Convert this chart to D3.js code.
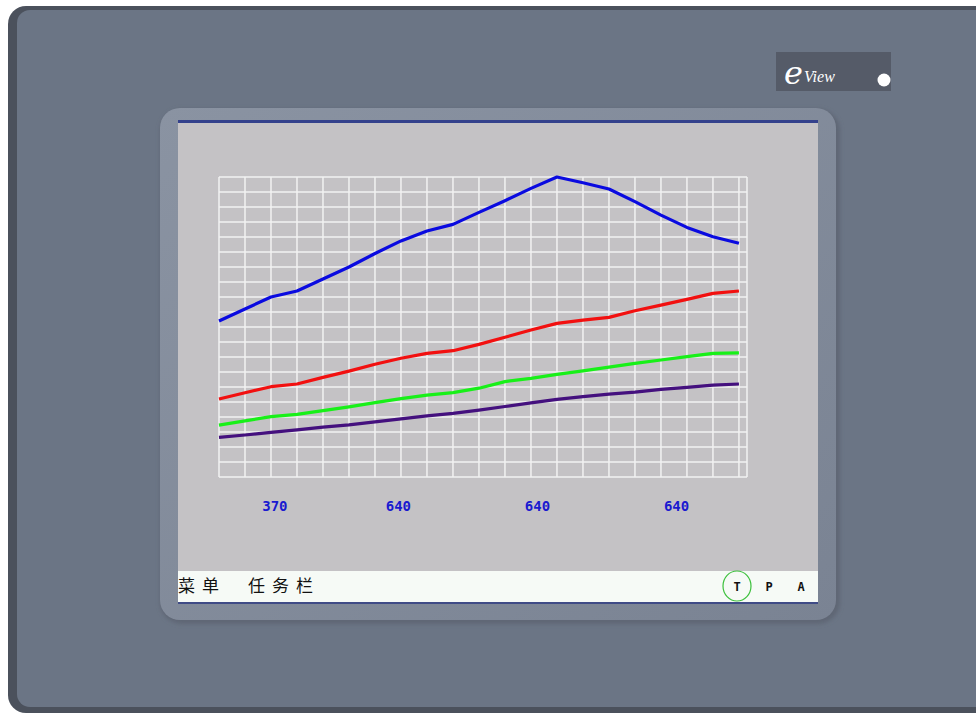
<!DOCTYPE html>
<html>
  <head>
    <meta charset="utf-8" />
    <title>eView trend</title>
    <script src="https://d3js.org/d3.v7.min.js"></script>
    <style>
      body { margin: 0; background: #fff; }
    </style>
  </head>
  <body>
    <svg id="panel"></svg>
    <script>
      // sample index along the trend (one sample per grid column)
      var samples = d3.range(0, 21);

      var blueValues = [52, 56, 60, 62, 66, 70, 74.5, 78.7, 82, 84.2, 88.2, 92.1, 96.2, 100, 98.1, 96, 91.8, 87.3, 83.2, 80.1, 77.9];
      var redValues = [26, 28.1, 30.1, 31, 33.2, 35.3, 37.6, 39.6, 41.2, 42.1, 44.2, 46.6, 49, 51.2, 52.3, 53.2, 55.4, 57.3, 59.2, 61.2, 62];
      var greenValues = [17.3, 18.7, 20.1, 20.9, 22.1, 23.4, 24.8, 26.1, 27.3, 28.1, 29.6, 31.8, 32.9, 34.2, 35.4, 36.6, 37.9, 39, 40.1, 41.2, 41.4];
      var purpleValues = [13.2, 14, 14.9, 15.7, 16.6, 17.4, 18.4, 19.4, 20.4, 21.2, 22.3, 23.5, 24.7, 25.9, 26.8, 27.6, 28.3, 29.2, 29.9, 30.6, 31];

      var tickLabels = ["370", "640", "640", "640"];
      var tickAt = [2.15, 6.9, 12.25, 17.6];

      var series = [
        { name: "blue", values: blueValues, color: "#0a0ae0" },
        { name: "red", values: redValues, color: "#f21010" },
        { name: "green", values: greenValues, color: "#18f018" },
        { name: "purple", values: purpleValues, color: "#44107e" }
      ];

      var width = 976, height = 716;
      var svg = d3.select("#panel").attr("width", width).attr("height", height);
      var defs = svg.append("defs");

      // device bezel
      svg.append("rect").attr("x", 8).attr("y", 6).attr("width", 990).attr("height", 707)
        .attr("rx", 18).attr("fill", "#4b515c");
      svg.append("rect").attr("x", 17).attr("y", 10).attr("width", 980).attr("height", 697)
        .attr("rx", 13).attr("fill", "#6b7585");

      // logo
      svg.append("rect").attr("x", 776).attr("y", 52).attr("width", 115).attr("height", 39)
        .attr("fill", "#555b68");
      svg.append("text").attr("x", 784).attr("y", 84)
        .attr("font-family", "DejaVu Serif").attr("font-style", "italic")
        .attr("font-size", 32).attr("fill", "#fff").text("e");
      svg.append("text").attr("x", 804).attr("y", 82)
        .attr("font-family", "Liberation Serif").attr("font-style", "italic")
        .attr("font-size", 16).attr("fill", "#fff").text("View");
      svg.append("circle").attr("cx", 884).attr("cy", 80).attr("r", 6.5).attr("fill", "#fff");

      // screen recess
      var blur = defs.append("filter").attr("id", "soft").attr("x", "-5%").attr("y", "-5%")
        .attr("width", "110%").attr("height", "110%");
      blur.append("feGaussianBlur").attr("stdDeviation", 2);
      var grad = defs.append("linearGradient").attr("id", "rim").attr("x1", 0).attr("y1", 0).attr("x2", 1).attr("y2", 1);
      grad.append("stop").attr("offset", "0%").attr("stop-color", "#8a93a2");
      grad.append("stop").attr("offset", "100%").attr("stop-color", "#7a8393");
      svg.append("rect").attr("x", 160).attr("y", 109).attr("width", 680).attr("height", 515)
        .attr("rx", 22).attr("fill", "#5e6674").attr("filter", "url(#soft)");
      svg.append("rect").attr("x", 160).attr("y", 108).attr("width", 676).attr("height", 512)
        .attr("rx", 20).attr("fill", "url(#rim)");

      // screen
      svg.append("rect").attr("x", 178).attr("y", 120).attr("width", 640).attr("height", 483)
        .attr("fill", "#c4c2c5");
      svg.append("rect").attr("x", 178).attr("y", 120).attr("width", 640).attr("height", 3)
        .attr("fill", "#34418c");

      // chart
      var x = d3.scaleLinear().domain([0, 20.31]).range([219, 747]);
      var y = d3.scaleLinear().domain([0, 100]).range([477, 177]);

      var grid = svg.append("g").attr("stroke", "#f2f2f2").attr("stroke-width", 1.5);
      grid.selectAll(".v").data(samples.concat([20.31])).enter().append("line")
        .attr("x1", function(d) { return x(d); }).attr("x2", function(d) { return x(d); })
        .attr("y1", y(0)).attr("y2", y(100));
      grid.selectAll(".h").data(d3.range(0, 101, 5)).enter().append("line")
        .attr("x1", x(0)).attr("x2", x(20.31))
        .attr("y1", function(d) { return y(d); }).attr("y2", function(d) { return y(d); });

      var line = d3.line()
        .x(function(d, i) { return x(samples[i]); })
        .y(function(d) { return y(d); });

      svg.append("g").selectAll("path").data(series).enter().append("path")
        .attr("d", function(d) { return line(d.values); })
        .attr("fill", "none")
        .attr("stroke", function(d) { return d.color; })
        .attr("stroke-width", 3.2)
        .attr("stroke-linejoin", "round");

      svg.append("g").selectAll("text").data(tickLabels).enter().append("text")
        .attr("x", function(d, i) { return x(tickAt[i]); })
        .attr("y", 511)
        .attr("text-anchor", "middle")
        .attr("font-family", "DejaVu Sans Mono")
        .attr("font-weight", "bold")
        .attr("font-size", 14)
        .attr("fill", "#1a1ad0")
        .text(function(d) { return d; });

      // task bar
      svg.append("rect").attr("x", 178).attr("y", 571).attr("width", 640).attr("height", 32)
        .attr("fill", "#f6faf6");
      svg.append("rect").attr("x", 178).attr("y", 602).attr("width", 640).attr("height", 2)
        .attr("fill", "#3f4b86");
      svg.append("text").attr("x", 178).attr("y", 592)
        .attr("font-family", "Noto Sans CJK SC").attr("font-size", 17)
        .attr("letter-spacing", 7).attr("fill", "#111").text("菜单");
      svg.append("text").attr("x", 248).attr("y", 592)
        .attr("font-family", "Noto Sans CJK SC").attr("font-size", 17)
        .attr("letter-spacing", 7).attr("fill", "#111").text("任务栏");

      svg.append("ellipse").attr("cx", 737).attr("cy", 586).attr("rx", 14).attr("ry", 15)
        .attr("fill", "none").attr("stroke", "#3cc03c").attr("stroke-width", 1.2);
      svg.selectAll(".tpa").data(["T", "P", "A"]).enter().append("text")
        .attr("x", function(d, i) { return 737 + i * 32; })
        .attr("y", 591)
        .attr("text-anchor", "middle")
        .attr("font-family", "DejaVu Sans Mono").attr("font-weight", "bold")
        .attr("font-size", 12).attr("fill", "#111")
        .text(function(d) { return d; });
    </script>
  </body>
</html>
